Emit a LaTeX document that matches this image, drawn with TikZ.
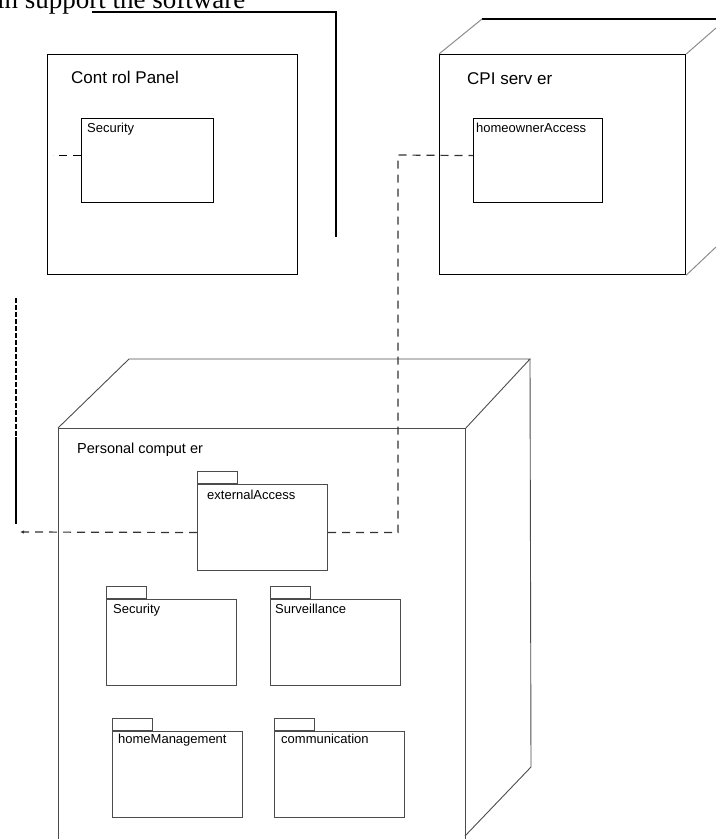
\documentclass[tikz,border=0pt]{standalone}
\usepackage{fontspec}
\setmainfont{Liberation Sans}
\newfontfamily\captionserif{Liberation Serif}
\usetikzlibrary{arrows.meta}

\begin{document}
\begin{tikzpicture}[
    x=1pt, y=-1pt,
    >={Latex[length=4pt,width=3.5pt]},
    face/.style={draw, line width=1.2pt, rectangle, anchor=north west, inner sep=0pt},
    pcface/.style={draw=black!70, line width=0.9pt, rectangle, anchor=north west, inner sep=0pt},
    part/.style={draw, line width=1.2pt, rectangle, anchor=north west, inner sep=0pt},
    pkg/.style={draw=black!70, line width=1pt, anchor=north west, inner sep=0pt, minimum width=130pt, minimum height=86pt},
    pkgtab/.style={draw=black!70, line width=1pt, anchor=south west, inner sep=0pt, minimum width=40pt, minimum height=12pt},
    nodelabel/.style={anchor=north west, inner sep=0pt, font=\fontsize{17}{17}\selectfont},
    pclabel/.style={anchor=north west, inner sep=0pt, font=\fontsize{14.5}{14.5}\selectfont},
    smalllabel/.style={anchor=north west, inner sep=0pt, font=\fontsize{13}{13}\selectfont},
    dep/.style={dash pattern=on 8pt off 6pt, line width=1.2pt},
    pcedge/.style={draw=black!70, line width=0.9pt}
]
  \useasboundingbox (0,0) rectangle (716,839);
  \clip (0,0) rectangle (716,839);

  \node[anchor=base west, inner sep=0pt, font=\captionserif\fontsize{27}{27}\selectfont] (caption) at (-3,8) {in support the software};

  % Control Panel
  \node[face, minimum width=250pt, minimum height=220pt] (cp) at (47,54) {};
  \draw[line width=1.2pt] (92,12) -| (336,237);
  \node[part, minimum width=132pt, minimum height=84pt] (cpsec) at (81,118) {};
  \node[nodelabel] (cplabel) at ([xshift=24pt,yshift=-17pt]cp.north west) {Cont rol Panel};
  \node[smalllabel] (cpseclabel) at ([xshift=6pt,yshift=-5pt]cpsec.north west) {Security};

  % CPI server
  \node[face, minimum width=246pt, minimum height=220pt] (cpi) at (439,54) {};
  \draw[line width=1.2pt] (482,19) -- (716,19);
  \draw[black!45, line width=1pt] (cpi.north west) -- (482,19);
  \draw[black!45, line width=1pt] (cpi.north east) -- (716,28);
  \draw[black!45, line width=1pt] (cpi.south east) -- (716,247);
  \node[part, minimum width=129pt, minimum height=84pt] (hoa) at (473,118) {};
  \node[nodelabel] (cpilabel) at ([xshift=28pt,yshift=-18pt]cpi.north west) {CPI serv er};
  \node[smalllabel] (hoalabel) at ([xshift=3pt,yshift=-5pt]hoa.north west) {homeownerAccess};

  % Personal computer
  \node[pcface, minimum width=407pt, minimum height=420pt] (pc) at (58,428) {};
  \draw[pcedge] (pc.north west) -- (129,359) -- (530,359) -- (pc.north east);
  \draw[pcedge] (530,359) -- (531,767) -- (465,836);
  \node[pclabel] (pclabel) at ([xshift=19pt,yshift=-15pt]pc.north west) {Personal comput er};

  \node[pkg] (ext) at (197,484) {};
  \node[pkg] (sec) at (106,599) {};
  \node[pkg] (surv) at (270,599) {};
  \node[pkg] (home) at (112,731) {};
  \node[pkg] (comm) at (274,731) {};
  \foreach \p in {ext,sec,surv,home,comm}
    \node[pkgtab] (\p-tab) at (\p.north west) {};

  \node[smalllabel] at ([xshift=10pt,yshift=-6pt]ext.north west) {externalAccess};
  \node[smalllabel] at ([xshift=7pt,yshift=-5pt]sec.north west) {Security};
  \node[smalllabel] at ([xshift=5pt,yshift=-5pt]surv.north west) {Surveillance};
  \node[smalllabel] at ([xshift=6pt,yshift=-3pt]home.north west) {homeManagement};
  \node[smalllabel] at ([xshift=7pt,yshift=-3pt]comm.north west) {communication};

  % Dependencies
  \coordinate (cpdrop) at (16,298);
  \coordinate (cpsolid) at (16,437);
  \coordinate (cpbend) at (16,524);
  \coordinate (extarrow) at (20,532);
  \coordinate (hoabend) at (398,155);

  \draw[dep] ([yshift=5pt]cpsec.west) -- ++(-28,0);
  \draw[line width=1.2pt, dash pattern=on 5pt off 2pt] (cpdrop) -- (cpsolid);
  \draw[line width=1.2pt] (cpsolid) -- (cpbend);
  \draw[dep, ->, black!80] ([yshift=-5pt]ext.west) -- (extarrow);
  \draw[dep, black!80] ([yshift=-5pt]ext.east) -| (hoabend) -- ([yshift=5pt]hoa.west);
\end{tikzpicture}
\end{document}
